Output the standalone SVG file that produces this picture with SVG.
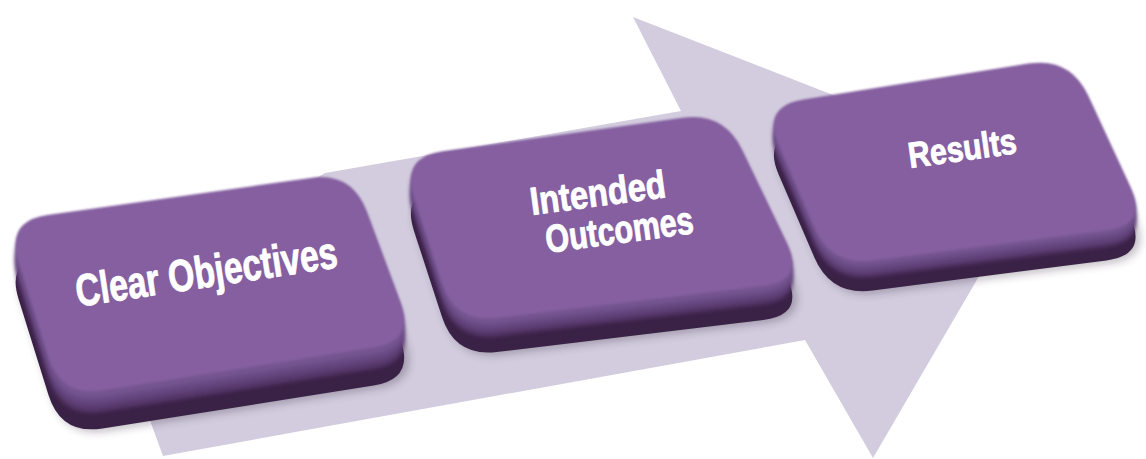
<svg xmlns="http://www.w3.org/2000/svg" xmlns:xlink="http://www.w3.org/1999/xlink" width="1146" height="459" viewBox="0 0 1146 459">
  <defs>
    <style>
      .arrow { fill: #D2CCDE; }
      .shadow { fill: #1a0f22; opacity: 0.3; filter: url(#blur6); }
      .body { fill: #3A2146; }
      .b3 { fill: #58396C; filter: url(#blur2); }
      .b2 { fill: #664780; filter: url(#blur2); }
      .b1 { fill: #755490; filter: url(#blur2); }
      .face { fill: #855FA0; filter: url(#blur1); }
      .label { font-family: "Liberation Sans", Arial, sans-serif; font-weight: bold; fill: #FFFFFF; stroke: #FFFFFF; stroke-width: 0.9; text-anchor: middle; }
    </style>
    <filter id="blur6" x="-20%" y="-20%" width="140%" height="140%"><feGaussianBlur stdDeviation="5"/></filter>
    <filter id="blur2" x="-5%" y="-5%" width="110%" height="110%"><feGaussianBlur stdDeviation="2"/></filter>
    <filter id="blur1" x="-5%" y="-5%" width="110%" height="110%"><feGaussianBlur stdDeviation="1"/></filter>
    <path id="shape1" d="M47.58,215.11 L310.42,177.89 Q352,172 366.67,211.35 L400.33,301.65 Q415,341 373.52,347.56 L102.48,390.44 Q61,397 48.47,356.91 L18.53,261.09 Q6,221 47.58,215.11 Z"/>
    <path id="shape2" d="M442.6,151.2 L682.4,117.8 Q724,112 742.15,149.88 L786.85,243.12 Q805,281 763.3,286 L496.7,318 Q455,323 442.01,283.07 L413.99,196.93 Q401,157 442.6,151.2 Z"/>
    <path id="shape3" d="M803.48,99.4 L1028.52,63.6 Q1070,57 1087.69,95.1 L1130.31,186.9 Q1148,225 1106.34,230.39 L872.66,260.61 Q831,266 814.36,227.42 L778.64,144.58 Q762,106 803.48,99.4 Z"/>
  </defs>
  <rect width="1146" height="459" fill="#FFFFFF"/>
  <g id="connectors">
    <polygon class="arrow" points="163,456 106,300 325,173 681,111 633,17 1038,175 873,458 805,340"/>
  </g>
  <g id="node-clear-objectives">
    <use xlink:href="#shape1" class="shadow" transform="translate(4,40)"/>
    <use xlink:href="#shape1" class="body" transform="translate(0,38)"/>
    <use xlink:href="#shape1" class="b3" transform="translate(0,21)"/>
    <use xlink:href="#shape1" class="b2" transform="translate(0,14)"/>
    <use xlink:href="#shape1" class="b1" transform="translate(0,7)"/>
    <use xlink:href="#shape1" class="face"/>
    <text class="label" x="208.5" y="287" font-size="45" textLength="264" lengthAdjust="spacingAndGlyphs" transform="rotate(-8.6 208.5 287)">Clear Objectives</text>
  </g>
  <g id="node-intended-outcomes">
    <use xlink:href="#shape2" class="shadow" transform="translate(4,36)"/>
    <use xlink:href="#shape2" class="body" transform="translate(0,34)"/>
    <use xlink:href="#shape2" class="b3" transform="translate(0,18)"/>
    <use xlink:href="#shape2" class="b2" transform="translate(0,12)"/>
    <use xlink:href="#shape2" class="b1" transform="translate(0,6)"/>
    <use xlink:href="#shape2" class="face"/>
    <text class="label" x="599.5" y="206" font-size="39" textLength="136" lengthAdjust="spacingAndGlyphs" transform="rotate(-7.6 599.5 206)">Intended</text>
    <text class="label" x="621" y="243" font-size="39" textLength="149" lengthAdjust="spacingAndGlyphs" transform="rotate(-7.7 621 243)">Outcomes</text>
  </g>
  <g id="node-results">
    <use xlink:href="#shape3" class="shadow" transform="translate(4,32)"/>
    <use xlink:href="#shape3" class="body" transform="translate(0,30)"/>
    <use xlink:href="#shape3" class="b3" transform="translate(0,16)"/>
    <use xlink:href="#shape3" class="b2" transform="translate(0,11)"/>
    <use xlink:href="#shape3" class="b1" transform="translate(0,5)"/>
    <use xlink:href="#shape3" class="face"/>
    <text class="label" x="964" y="160.5" font-size="36" textLength="109" lengthAdjust="spacingAndGlyphs" transform="rotate(-7.9 964 160.5)">Results</text>
  </g>
</svg>
